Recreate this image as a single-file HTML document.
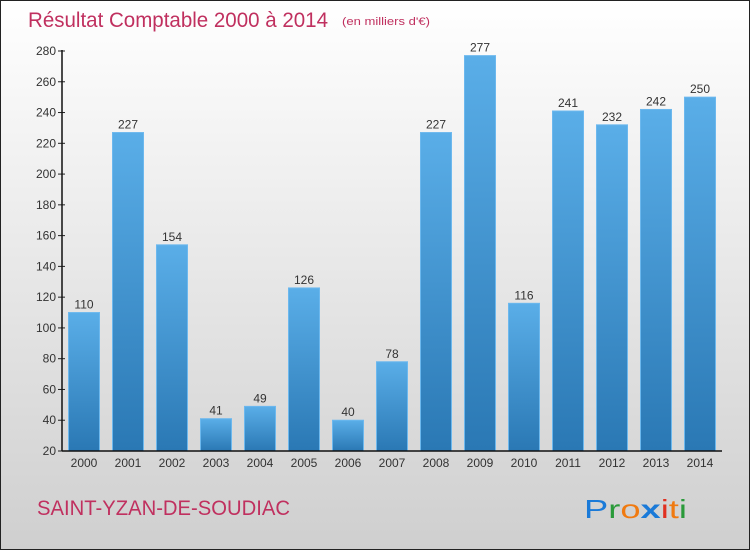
<!DOCTYPE html>
<html><head><meta charset="utf-8"><style>
body{margin:0}
#c{width:750px;height:550px;position:relative;box-sizing:border-box;border:1px solid #222;background:linear-gradient(#ffffff,#cfcfcf);font-family:"DejaVu Sans","Liberation Sans",sans-serif;overflow:hidden}
</style></head><body>
<div id="c">
<svg width="750" height="550" style="position:absolute;left:0;top:0" id="svg">
<defs><linearGradient id="bg" x1="0" y1="0" x2="0" y2="1"><stop offset="0" stop-color="#5aaee8"/><stop offset="1" stop-color="#2a78b4"/></linearGradient></defs>
<text x="27" y="26" font-size="21" fill="#c0305f" textLength="300" lengthAdjust="spacingAndGlyphs" style="font-family:'Liberation Sans',sans-serif">Résultat Comptable 2000 à 2014</text>
<text x="341" y="24" font-size="11" fill="#c0305f" textLength="88" lengthAdjust="spacingAndGlyphs" style="font-family:'Liberation Sans',sans-serif">(en milliers d'€)</text>
<g id="g"></g>
<text x="36" y="514" font-size="21" fill="#c0305f" textLength="253" lengthAdjust="spacingAndGlyphs" style="font-family:'Liberation Sans',sans-serif">SAINT-YZAN-DE-SOUDIAC</text>
<g font-size="26" style="font-family:'Liberation Sans',sans-serif">
<text x="583" y="517" textLength="103" lengthAdjust="spacingAndGlyphs"><tspan fill="#1a7ad8">P</tspan><tspan fill="#2a9a3a">r</tspan><tspan fill="#f07a10">o</tspan><tspan fill="#1a7ad8" font-weight="bold">x</tspan><tspan fill="#e03020">i</tspan><tspan fill="#f07a10">t</tspan><tspan fill="#2a9a3a">i</tspan></text>
</g>
</svg>
</div>
<script>
const years=["2000","2001","2002","2003","2004","2005","2006","2007","2008","2009","2010","2011","2012","2013","2014"];
const values=[110,227,154,41,49,126,40,78,227,277,116,241,232,242,250];
const yTicks=[20,40,60,80,100,120,140,160,180,200,220,240,260,280];
const NS="http://www.w3.org/2000/svg";
const g=document.getElementById('g');
const x0=61,x1=721,yb=450,yMin=20,yMax=280,yt=50;
const band=(x1-x0)/years.length;
function y(v){return yb-(v-yMin)/(yMax-yMin)*(yb-yt);}
function mk(t,a){const e=document.createElementNS(NS,t);for(const k in a)e.setAttribute(k,a[k]);g.appendChild(e);return e;}
yTicks.forEach(t=>{
 const l=mk('line',{x1:x0-4,x2:x0+3,y1:y(t),y2:y(t),stroke:'#222'});
 
 
 const tx=mk('text',{x:x0-6,y:y(t)+4,'text-anchor':'end','font-size':12,fill:'#333','font-family':'Liberation Sans, sans-serif'});
 tx.textContent=t;
 
 
});
values.forEach((v,i)=>{
 const bx=x0+i*band+6.5,bw=band-13;
 const r=mk('rect',{x:bx,y:y(v),width:bw,height:yb-y(v),fill:'url(#bg)',stroke:'#6cb8ee','stroke-width':1});
 
 
 const tv=mk('text',{x:bx+bw/2,y:y(v)-4,'text-anchor':'middle','font-size':12,fill:'#333','font-family':'Liberation Sans, sans-serif'});
 tv.textContent=v;
 
 
 const tl=mk('text',{x:bx+bw/2,y:yb+16,'text-anchor':'middle','font-size':12,fill:'#333','font-family':'Liberation Sans, sans-serif'});
 tl.textContent=years[i];
 
 
});
const ya=mk('line',{x1:x0,x2:x0,y1:yt-1,y2:yb,stroke:'#111','stroke-width':1.5});


const xa=mk('line',{x1:x0,x2:x1,y1:yb,y2:yb,stroke:'#111','stroke-width':1.5});


</script>
</body></html>
